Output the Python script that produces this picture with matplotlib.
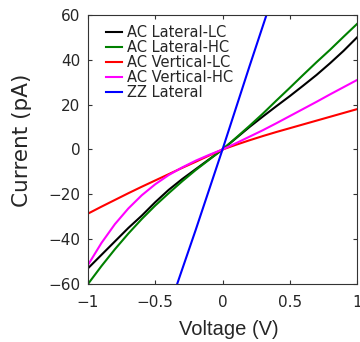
import matplotlib

matplotlib.use("Agg")
import matplotlib.pyplot as plt

voltage = [-1.0, -0.9, -0.8, -0.7, -0.6, -0.5, -0.4, -0.3, -0.2, -0.1, 0.0,
           0.1, 0.2, 0.3, 0.4, 0.5, 0.6, 0.7, 0.8, 0.9, 1.0]

ac_lateral_lc = [-53.0, -47.0, -41.0, -35.0, -29.5, -23.5, -18.0, -13.2, -8.8, -4.4, 0.0,
                 5.0, 10.0, 14.7, 19.3, 23.8, 28.5, 33.3, 38.5, 44.0, 50.0]
ac_lateral_hc = [-60.0, -52.0, -44.5, -37.5, -31.0, -25.0, -19.5, -14.2, -9.2, -4.6, 0.0,
                 5.2, 10.5, 16.0, 21.8, 27.5, 33.3, 39.0, 44.5, 50.3, 56.0]
ac_vertical_lc = [-28.6, -25.5, -22.5, -19.5, -16.6, -13.8, -11.0, -8.2, -5.5, -2.7, 0.0,
                  2.1, 4.1, 6.0, 7.8, 9.5, 11.2, 12.9, 14.6, 16.3, 18.0]
ac_vertical_hc = [-51.5, -41.7, -33.3, -26.3, -20.4, -15.5, -11.4, -8.0, -5.0, -2.4, 0.0,
                  2.8, 5.7, 8.6, 11.7, 14.9, 18.1, 21.3, 24.6, 27.8, 31.0]

zz_voltage = [-0.36, -0.2, 0.0, 0.2, 0.36]
zz_lateral = [-64.0, -36.0, 0.0, 37.0, 66.0]

series = [
    ("AC Lateral-LC", voltage, ac_lateral_lc, "black"),
    ("AC Lateral-HC", voltage, ac_lateral_hc, "green"),
    ("AC Vertical-LC", voltage, ac_vertical_lc, "red"),
    ("AC Vertical-HC", voltage, ac_vertical_hc, "magenta"),
    ("ZZ Lateral", zz_voltage, zz_lateral, "blue"),
]

TEXT = "#262626"

fig = plt.figure(figsize=(3.6, 3.42), dpi=100)
ax = fig.add_axes([88 / 360, 1 - 284 / 342, 269 / 360, 269 / 342])

for label, x, y, color in series:
    ax.plot(x, y, color=color, lw=1.5, label=label)

ax.set_xlim(-1, 1)
ax.set_ylim(-60, 60)
ax.set_xticks([-1, -0.5, 0, 0.5, 1])
ax.set_xticklabels(["\u22121", "\u22120.5", "0", "0.5", "1"])
ax.set_yticks([-60, -40, -20, 0, 20, 40, 60])
ax.tick_params(direction="in", top=True, right=True, labelsize=11, length=3,
               color="#333333", labelcolor=TEXT)
ax.tick_params(axis="x", pad=8)
ax.tick_params(axis="y", pad=5.5)
for spine in ax.spines.values():
    spine.set_color("#333333")

ax.set_xlabel("Voltage (V)", fontsize=14.5, color=TEXT, family="Liberation Sans")
ax.xaxis.set_label_coords(0.524, -0.134)
ax.set_ylabel("Current (pA)", fontsize=15.5, color=TEXT)
ax.yaxis.set_label_coords(-0.208, 0.535)

ax.legend(loc="upper left", bbox_to_anchor=(6 / 269, 1 + 2 / 269), frameon=False,
          fontsize=10.5, handlelength=1.15, handletextpad=0.3, labelspacing=0.0,
          borderaxespad=0.4, labelcolor=TEXT)

fig.savefig("out.png", dpi=100)
